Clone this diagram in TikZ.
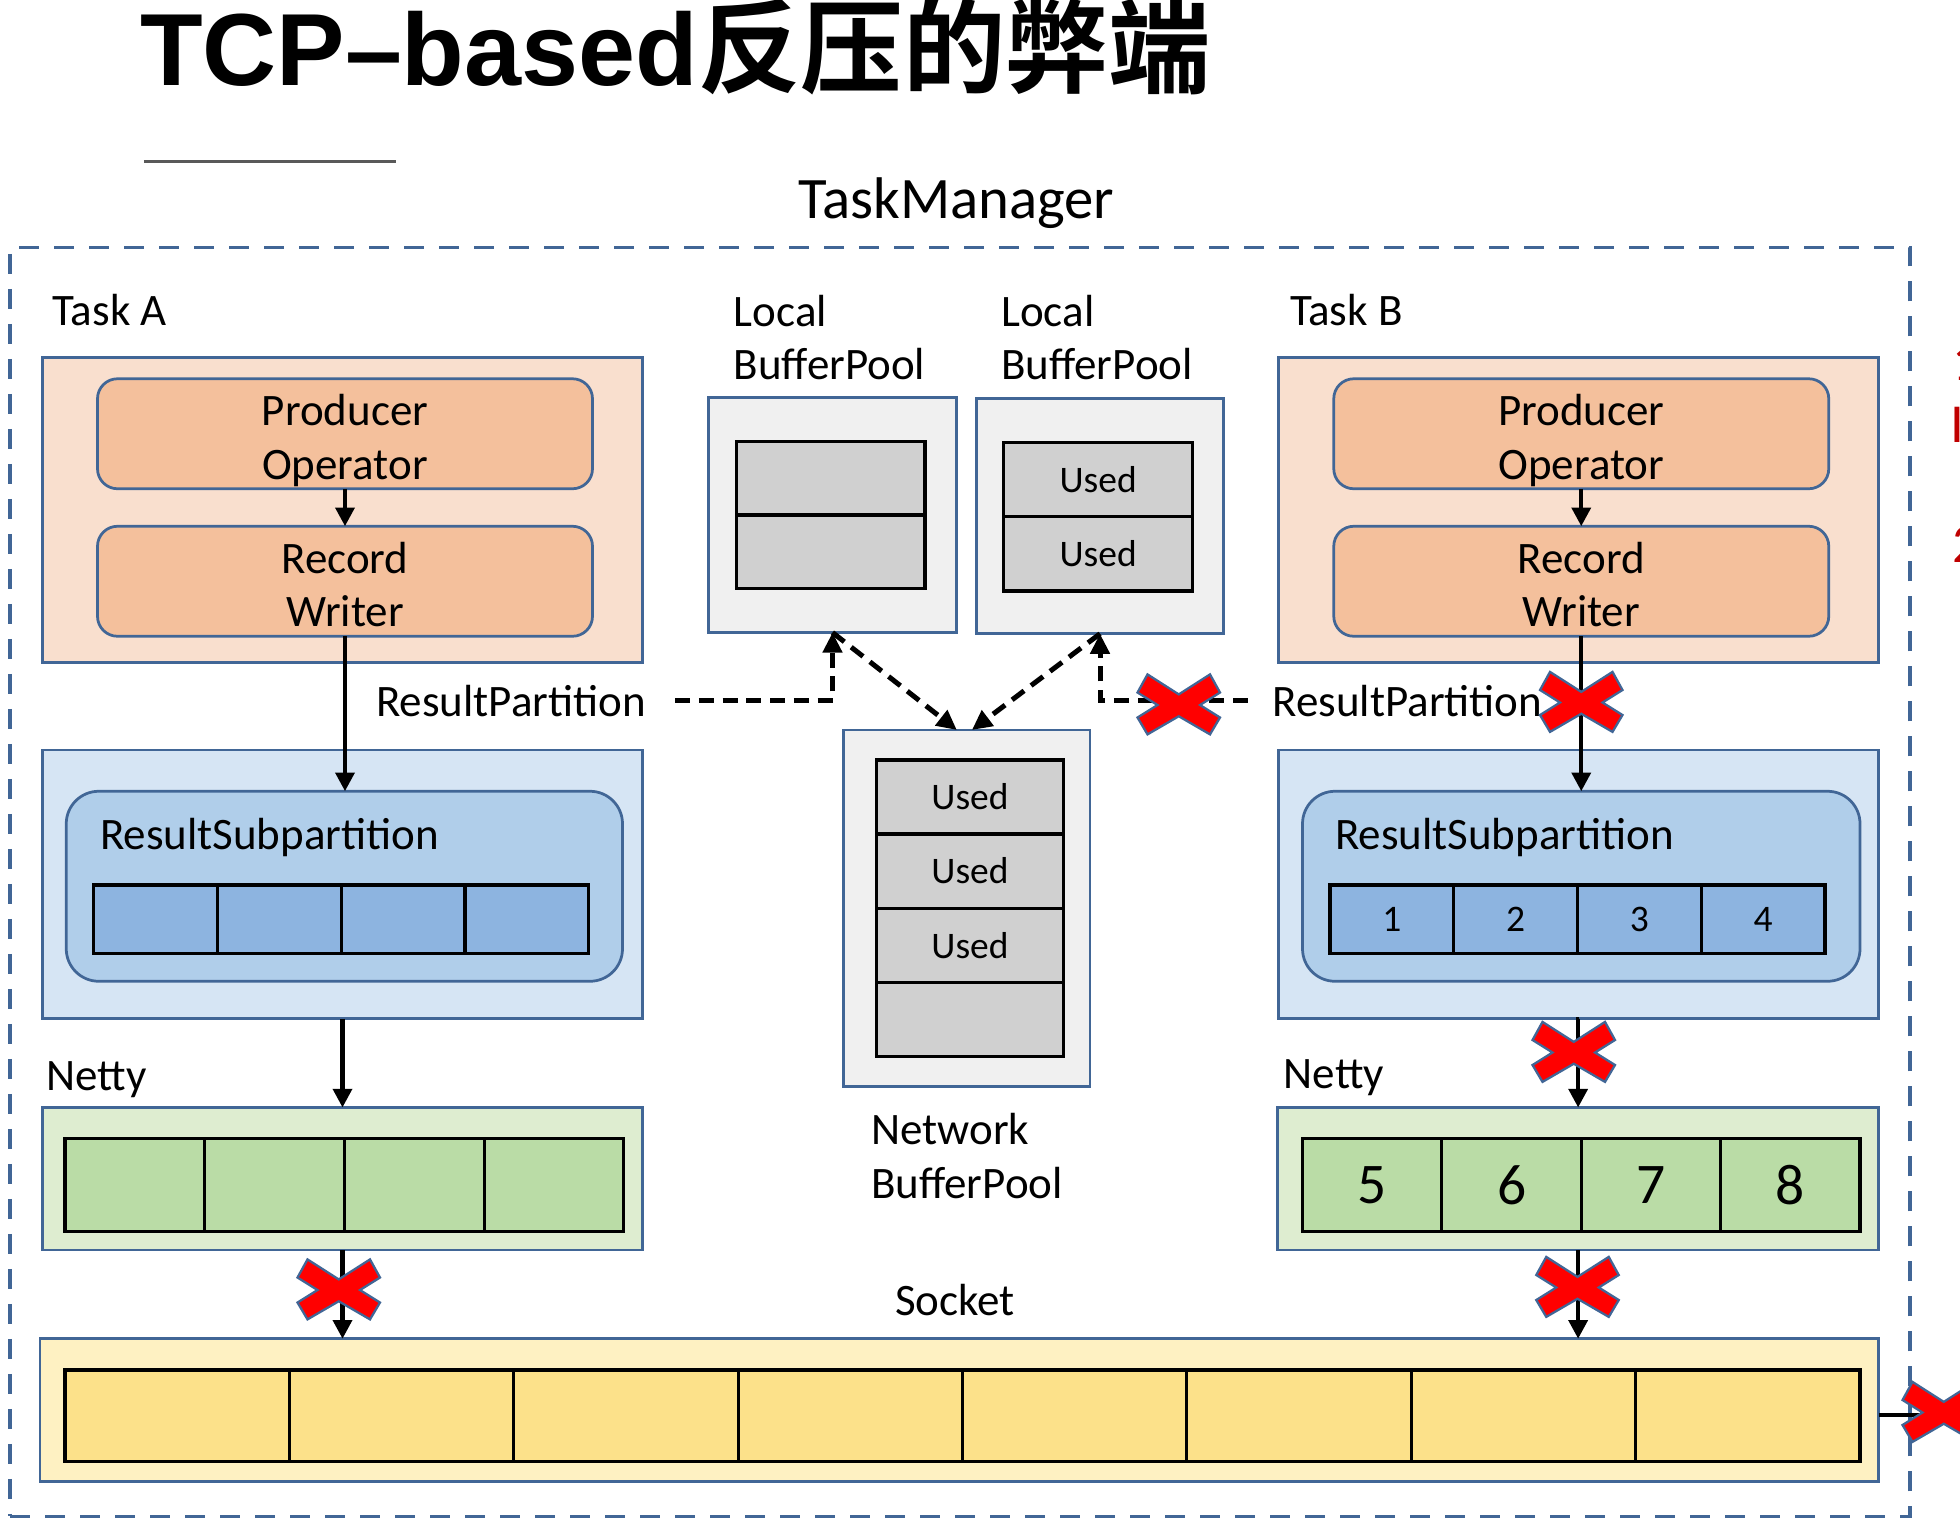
\documentclass[tikz,border=0pt]{standalone}
\usepackage{fontspec}
\setmainfont{Carlito}
\newfontfamily\titlefont{Liberation Sans}[UprightFont=* Bold]
\newfontfamily\titlecjk{Noto Sans CJK SC}[UprightFont=* Bold]
\usetikzlibrary{arrows.meta}
\definecolor{bdr}{RGB}{65,102,150}
\definecolor{peach}{RGB}{249,223,206}
\definecolor{opfill}{RGB}{244,192,156}
\definecolor{partfill}{RGB}{214,229,244}
\definecolor{subfill}{RGB}{176,206,234}
\definecolor{bluecell}{RGB}{141,180,224}
\definecolor{nettyfill}{RGB}{222,237,208}
\definecolor{greencell}{RGB}{186,220,166}
\definecolor{sockfill}{RGB}{254,241,194}
\definecolor{yellowcell}{RGB}{252,225,138}
\definecolor{bpfill}{RGB}{240,240,240}
\definecolor{graycell}{RGB}{208,208,208}
\definecolor{darkred}{RGB}{192,0,0}
\begin{document}
\begin{tikzpicture}[x=1pt,y=-1pt,
    every node/.style={inner sep=0pt,outer sep=0pt},
    sz/.style 2 args={minimum width=#1pt,minimum height=#2pt},
    lbl/.style={font=\fontsize{36}{43}\selectfont,align=left},
    lbl1/.style={lbl,text height=25pt,text depth=0pt},
    box/.style={draw=bdr,line width=2.2pt,fill=#1},
    opbox/.style={draw=bdr,line width=2.2pt,fill=opfill,rounded corners=16pt,
      font=\fontsize{36}{43}\selectfont,align=center,text height=73pt,text depth=0pt},
    cell/.style={draw=black,line width=2.5pt,fill=#1},
    used/.style={cell=graycell,font=\fontsize{30}{36}\selectfont},
    arr/.style={line width=3.5pt,-{Triangle[width=15pt,length=15pt]}},
    dasharr/.style={line width=4pt,dash pattern=on 12pt off 7pt,
      -{Triangle[width=15pt,length=16pt]}},
    redx/.pic={\draw[line width=1.8pt,draw=bdr,fill=red]
      (-33,-10) -- (-25,-24.5) -- (0,-8.5) -- (25,-24.5) -- (33,-10) -- (17,0)
      -- (33,10) -- (25,23.5) -- (0,9) -- (-25,23.5) -- (-33,10) -- (-17,0) -- cycle;}]
\useasboundingbox (0,0) rectangle (1568,1219.2);

% title
\node[anchor=base west] (title) at (112,68)
  {\fontsize{82}{82}\selectfont\titlefont TCP–based\titlecjk 反压的弊端};
\draw[line width=2.7pt,gray!70!black] (115,129) -- (317,129);
\node[font=\fontsize{47}{56}\selectfont,text height=33pt,text depth=0pt] (tmlbl) at (765,158) {TaskManager};
\node[draw=bdr,line width=2.7pt,dash pattern=on 16pt off 12pt,sz={1520}{1015}] (tm) at (768,705.5) {};

% task A
\node[lbl1,anchor=west] (taskAlbl) at (42,248) {Task A};
\node[box=peach,sz={480}{244}] (taskA) at (274,408) {};
\node[opbox,sz={396}{88}] (opA) at (276,347) {Producer\\Operator};
\node[opbox,sz={396}{88}] (recA) at (276,465) {Record\\Writer};
\node[lbl1,anchor=west] (rpAlbl) at (301,561) {ResultPartition};
\node[box=partfill,sz={480}{215}] (partA) at (274,707.5) {};
\node[box=subfill,rounded corners=26pt,sz={445}{152}] (rsA) at (275.5,709) {};
\node[lbl1,anchor=west] (rsAlbl) at (80,667) {ResultSubpartition};
\foreach \i in {0,...,3}
  \node[cell=bluecell,sz={99}{55}] (subA\i) at (75+49.5+99*\i,735.5) {};
\node[lbl1,anchor=west] (nettyAlbl) at (37,860) {Netty};
\node[box=nettyfill,sz={480}{114}] (nettyA) at (274,943) {};
\foreach \i in {0,...,3}
  \node[cell=greencell,sz={111.75}{74}] (netA\i) at (52+55.9+111.75*\i,948) {};

% task B
\node[lbl1,anchor=west] (taskBlbl) at (1032,248) {Task B};
\node[box=peach,sz={480}{244}] (taskB) at (1263,408) {};
\node[opbox,sz={396}{88}] (opB) at (1265,347) {Producer\\Operator};
\node[opbox,sz={396}{88}] (recB) at (1265,465) {Record\\Writer};
\node[lbl1,anchor=west] (rpBlbl) at (1018,561) {ResultPartition};
\node[box=partfill,sz={480}{215}] (partB) at (1263,707.5) {};
\node[box=subfill,rounded corners=26pt,sz={446}{152}] (rsB) at (1265,709) {};
\node[lbl1,anchor=west] (rsBlbl) at (1068,667) {ResultSubpartition};
\foreach \n [count=\i from 0] in {1,2,3,4}
  \node[cell=bluecell,sz={99}{55},font=\fontsize{30}{36}\selectfont] (subB\i) at (1064+49.5+99*\i,735.5) {\n};
\node[lbl1,anchor=west] (nettyBlbl) at (1027,858) {Netty};
\node[box=nettyfill,sz={481}{114}] (nettyB) at (1262.5,943) {};
\foreach \n [count=\i from 0] in {5,6,7,8}
  \node[cell=greencell,sz={111.5}{74},font=\fontsize{46}{50}\selectfont] (netB\i) at (1042+55.75+111.5*\i,948) {\n};

% buffer pools
\node[lbl,anchor=west] (lbp1lbl) at (587,270) {Local\\BufferPool};
\node[box=bpfill,sz={198}{188}] (lbp1) at (666,412) {};
\node[cell=graycell,sz={151}{59}] (lbp1a) at (664.5,382.5) {};
\node[cell=graycell,sz={151}{59}] (lbp1b) at (664.5,441.5) {};
\node[lbl,anchor=west] (lbp2lbl) at (801,270) {Local\\BufferPool};
\node[box=bpfill,sz={198}{188}] (lbp2) at (880,413) {};
\node[used,sz={151}{59.5}] (lbp2a) at (878.5,383.5) {Used};
\node[used,sz={151}{59.5}] (lbp2b) at (878.5,443) {Used};
\node[box=bpfill,sz={197}{285}] (nbp) at (773.5,726.5) {};
\foreach \t [count=\i from 0] in {Used,Used,Used,{}}
  \node[used,sz={150}{59.25}] (nbp\i) at (776,637.6+59.25*\i) {\t};
\node[lbl,anchor=west] (nbplbl) at (697,925) {Network\\BufferPool};

% socket
\node[lbl1] (socklbl) at (764,1040) {Socket};
\node[box=sockfill,sz={1471}{114}] (sock) at (767.5,1128) {};
\foreach \i in {0,...,7}
  \node[cell=yellowcell,sz={179.5}{73}] (sockc\i) at (52+89.75+179.5*\i,1132.5) {};

% arrows
\draw[arr] (opA) -- (recA);
\draw[arr] (recA.south) -- (recA.south |- rsA.north);
\draw[arr] (partA.south) -- (nettyA.north);
\draw[arr] (nettyA.south) -- (nettyA.south |- sock.north);
\draw[arr] (opB) -- (recB);
\draw[arr] (recB.south) -- (recB.south |- rsB.north);
\draw[arr] (partB.south) -- (partB.south -| nettyB.north) -- (nettyB.north);
\draw[arr] (nettyB.south) -- (nettyB.south |- sock.north);
\coordinate (sockOut) at (1580,1132);
\draw[arr] (sockOut -| sock.east) -- (sockOut);

\coordinate (dA) at (540,560);
\coordinate (dB) at (998,560);
\draw[dasharr] (dA) -- (dA -| lbp1.south) -- (lbp1.south);
\draw[dasharr] (lbp1.south) -- ([xshift=-8pt]nbp.north);
\draw[dasharr] (dB) -- (dB -| lbp2.south) -- (lbp2.south);
\draw[dasharr] (lbp2.south) -- ([xshift=4pt]nbp.north);

% blocked paths
\pic at (943,564) {redx};
\pic at (1265,562) {redx};
\pic at (1259,842) {redx};
\pic at (1262,1030) {redx};
\pic at (271,1032) {redx};
\pic at (1555,1130) {redx};

% cut-off notes at the right edge
\node[anchor=base west,text=darkred,font=\fontsize{44}{50}\selectfont] (note1) at (1562,304) {1};
\node[anchor=base west,text=darkred,font=\fontsize{44}{50}\selectfont] (note1b) at (1560,354) {I};
\node[anchor=base west,text=darkred,font=\fontsize{44}{50}\selectfont] (note2) at (1562,450) {2};
\end{tikzpicture}
\end{document}
